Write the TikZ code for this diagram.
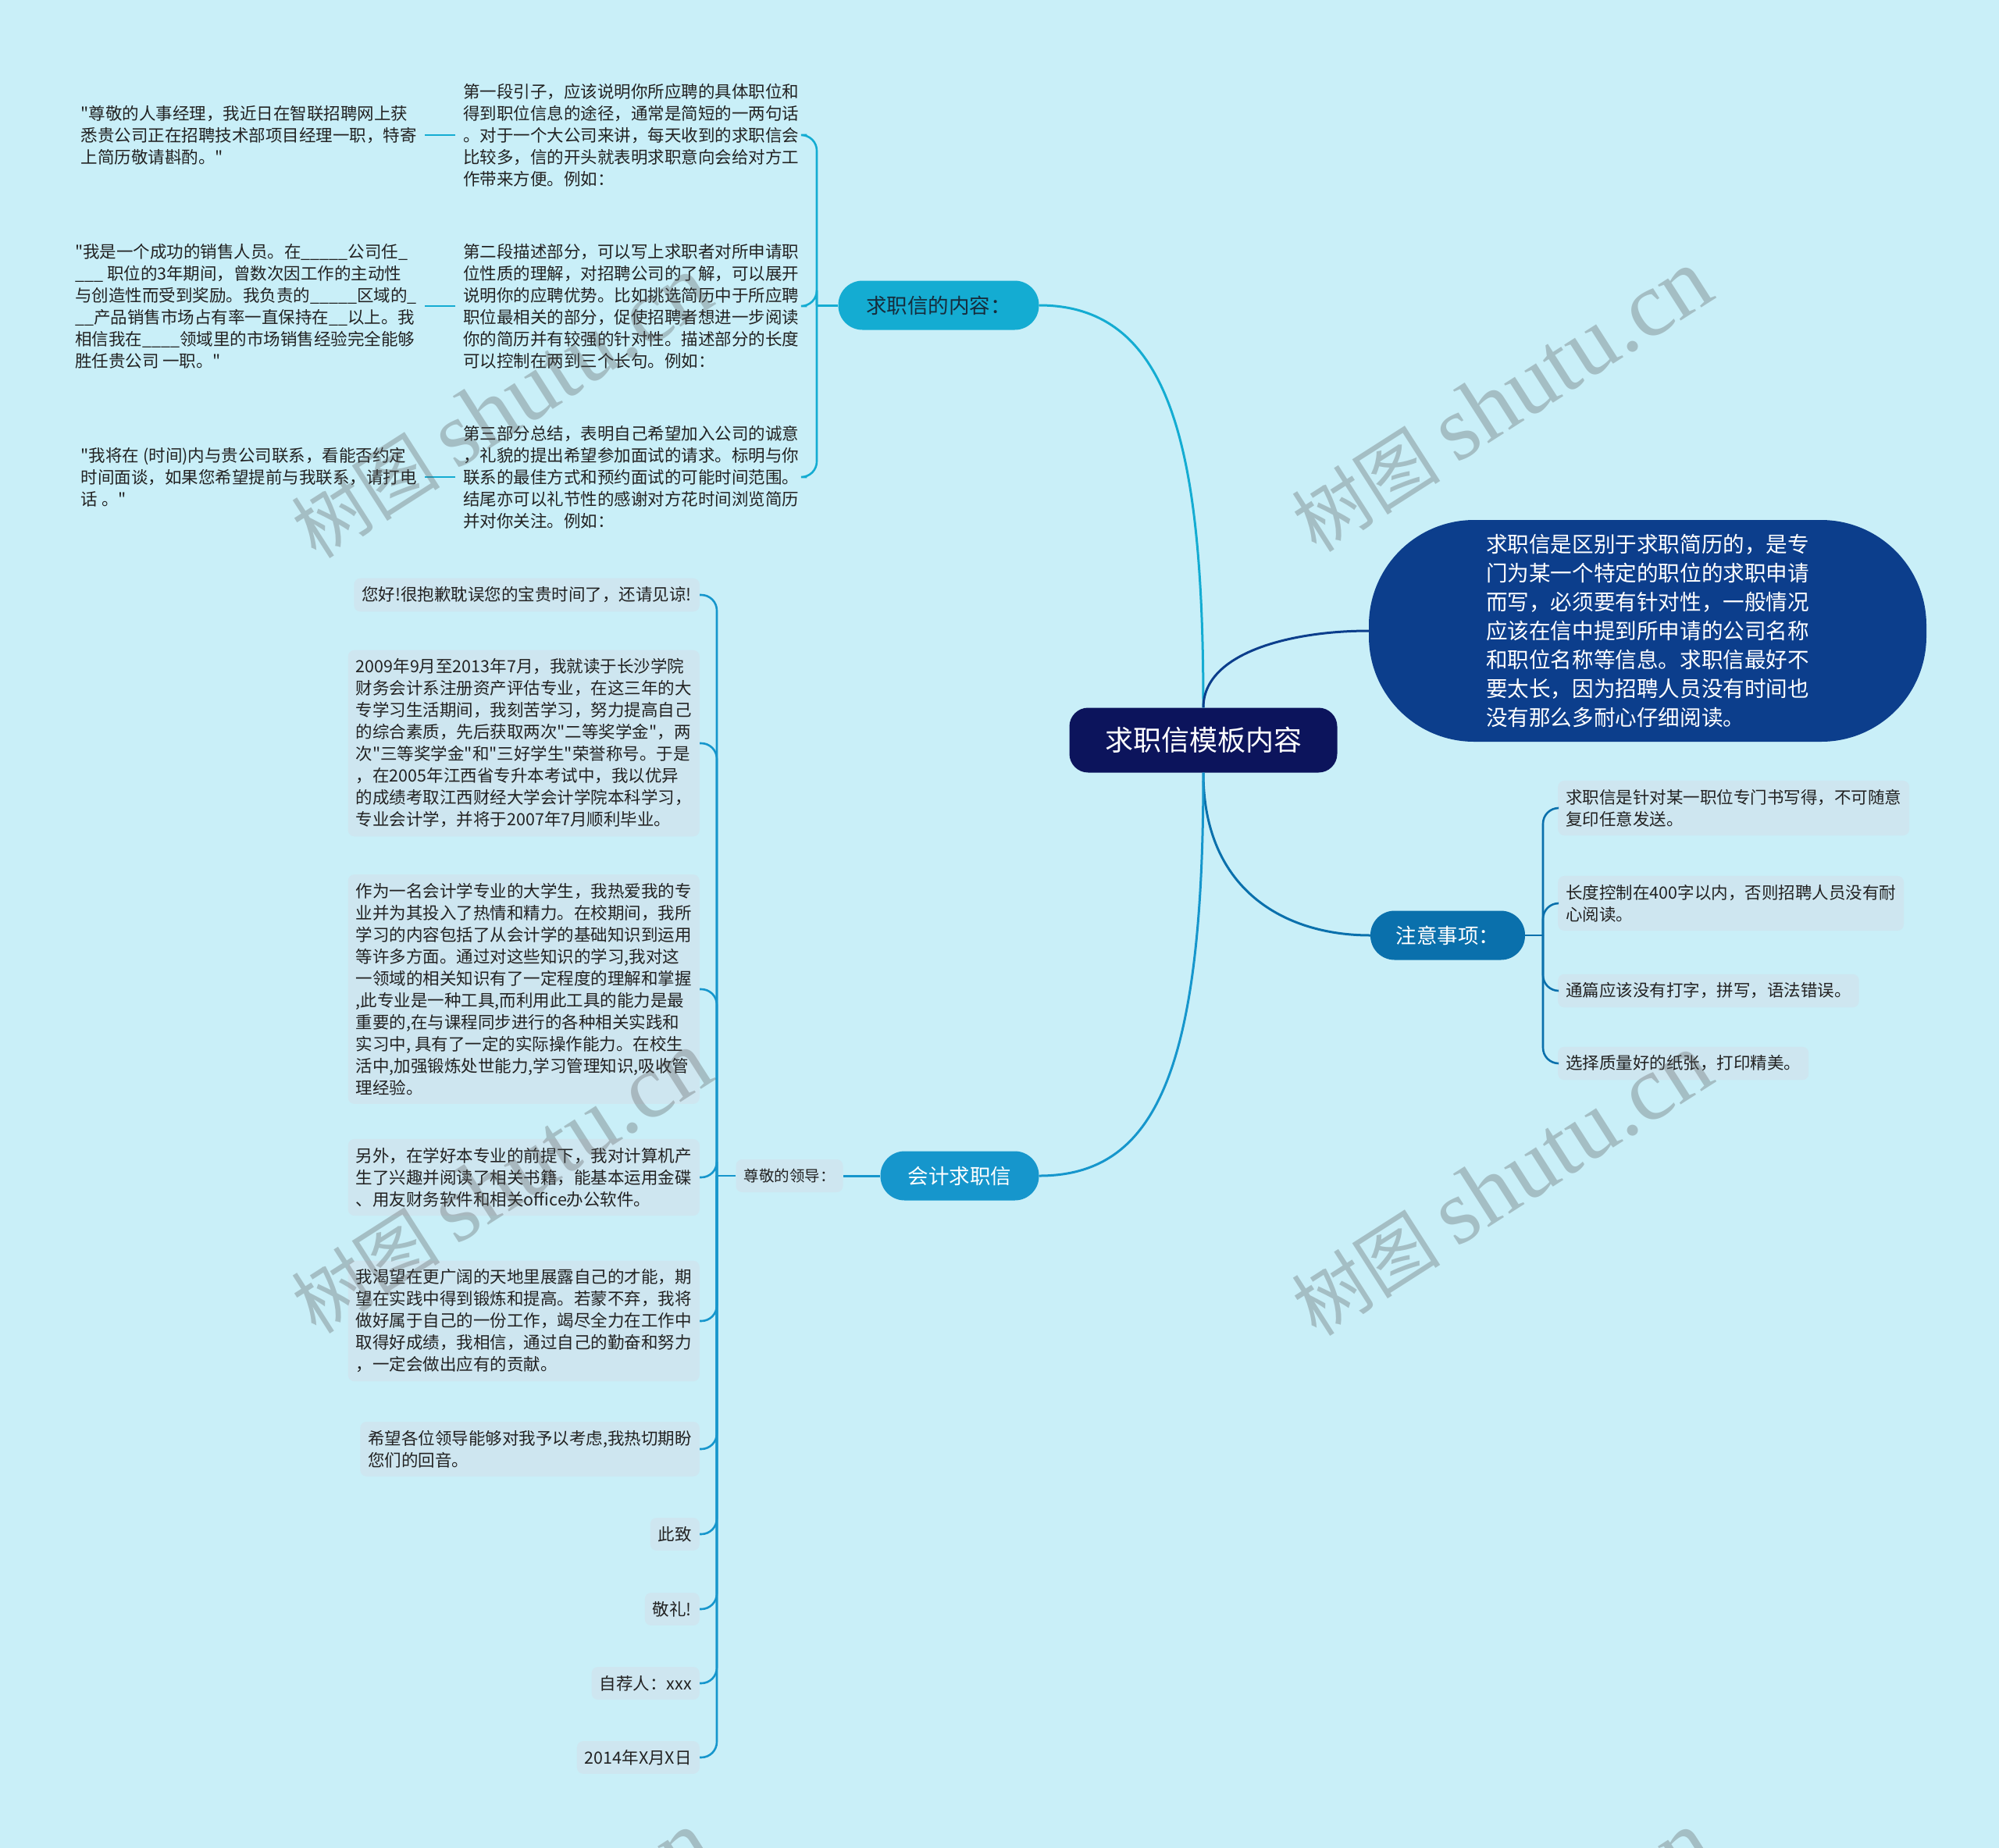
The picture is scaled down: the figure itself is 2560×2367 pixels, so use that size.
\documentclass[tikz,border=0pt]{standalone}
\usepackage{fontspec}
\setmainfont{Noto Sans CJK SC}[Ligatures=TeXOff]
\newfontfamily\wmlatin{Liberation Serif}

\definecolor{bgcyan}{RGB}{201,239,248}
\definecolor{rootnavy}{RGB}{12,20,92}
\definecolor{introblue}{RGB}{12,62,140}
\definecolor{topiccyan}{RGB}{20,172,210}
\definecolor{topicink}{RGB}{22,44,60}
\definecolor{lettercyan}{RGB}{22,150,204}
\definecolor{noteblue}{RGB}{10,112,172}
\definecolor{leaffill}{RGB}{206,230,240}
\definecolor{leafink}{RGB}{34,34,34}

\begin{document}
\begin{tikzpicture}[x=1pt, y=-1pt,
	leaf/.style={font=\fontsize{21.5}{28}\selectfont, text=leafink, align=left, inner xsep=10pt, inner ysep=11pt},
	leafbox/.style={leaf, fill=leaffill, rounded corners=8pt},
	topic/.style={rounded corners=31pt, minimum height=63pt, font=\fontsize{26.5}{30}\selectfont},
	link/.style={line width=3pt},
	fork/.style={line width=2.6pt, rounded corners=20pt},
	wm/.style={text=black!65, opacity=0.32, font=\fontsize{96}{100}\selectfont}]

	% 1. Background and page size
	\fill[bgcyan] (0,0) rectangle (2560,2367);
	\useasboundingbox (0,0) rectangle (2560,2367);
	\clip (0,0) rectangle (2560,2367);

	% 2. Centre and main topics
	\node[fill=rootnavy, text=white, rounded corners=24pt, minimum width=343pt, minimum height=83pt,
		font=\fontsize{36}{40}\selectfont] (root) at (1541,948) {求职信模板内容};
	\node[fill=introblue, text=white, rounded corners=135pt, minimum width=714pt, minimum height=284pt,
		align=left, font=\fontsize{27.6}{36.9}\selectfont] (intro) at (2110,808)
		{求职信是区别于求职简历的，是专\\门为某一个特定的职位的求职申请\\而写，必须要有针对性，一般情况\\应该在信中提到所申请的公司名称\\和职位名称等信息。求职信最好不\\要太长，因为招聘人员没有时间也\\没有那么多耐心仔细阅读。};
	\node[topic, fill=topiccyan, text=topicink, minimum width=257pt] (content) at (1202,391) {求职信的内容：};
	\node[topic, fill=noteblue, text=white, minimum width=198pt] (notes) at (1854,1198) {注意事项：};
	\node[topic, fill=lettercyan, text=white, minimum width=203pt] (letter) at (1229,1506) {会计求职信};

	% 3. Letter parts (top left)
	\node[leaf, anchor=west] (para1) at (583,173) {第一段引子，应该说明你所应聘的具体职位和\\得到职位信息的途径，通常是简短的一两句话\\。对于一个大公司来讲，每天收到的求职信会\\比较多，信的开头就表明求职意向会给对方工\\作带来方便。例如：};
	\node[leaf, anchor=west] (para2) at (583,392) {第二段描述部分，可以写上求职者对所申请职\\位性质的理解，对招聘公司的了解，可以展开\\说明你的应聘优势。比如挑选简历中于所应聘\\职位最相关的部分，促使招聘者想进一步阅读\\你的简历并有较强的针对性。描述部分的长度\\可以控制在两到三个长句。例如：};
	\node[leaf, anchor=west] (para3) at (583,611) {第三部分总结，表明自己希望加入公司的诚意\\，礼貌的提出希望参加面试的请求。标明与你\\联系的最佳方式和预约面试的可能时间范围。\\结尾亦可以礼节性的感谢对方花时间浏览简历\\并对你关注。例如：};
	\node[leaf, anchor=east] (eg1) at (544,173) {"尊敬的人事经理，我近日在智联招聘网上获\\悉贵公司正在招聘技术部项目经理一职，特寄\\上简历敬请斟酌。"};
	\node[leaf, anchor=east] (eg2) at (544,392) {"我是一个成功的销售人员。在\_\_\_\_\_公司任\_\\\_\_\_ 职位的3年期间，曾数次因工作的主动性\\与创造性而受到奖励。我负责的\_\_\_\_\_区域的\_\\\_\_产品销售市场占有率一直保持在\_\_以上。我\\相信我在\_\_\_\_领域里的市场销售经验完全能够\\胜任贵公司 一职。"};
	\node[leaf, anchor=east] (eg3) at (544,611) {"我将在 (时间)内与贵公司联系，看能否约定\\时间面谈，如果您希望提前与我联系，请打电\\话 。"};

	% 4. Sample letter (bottom left)
	\node[leafbox, font=\fontsize{19.5}{24}\selectfont, minimum height=42pt] (greet) at (1011,1506) {尊敬的领导：};
	\node[leafbox, anchor=east] (hello) at (896,762) {您好!很抱歉耽误您的宝贵时间了，还请见谅!};
	\node[leafbox, anchor=east] (study) at (896,952) {2009年9月至2013年7月，我就读于长沙学院\\财务会计系注册资产评估专业，在这三年的大\\专学习生活期间，我刻苦学习，努力提高自己\\的综合素质，先后获取两次"二等奖学金"，两\\次"三等奖学金"和"三好学生"荣誉称号。于是\\，在2005年江西省专升本考试中，我以优异\\的成绩考取江西财经大学会计学院本科学习，\\专业会计学，并将于2007年7月顺利毕业。};
	\node[leafbox, anchor=east] (major) at (896,1267) {作为一名会计学专业的大学生，我热爱我的专\\业并为其投入了热情和精力。在校期间，我所\\学习的内容包括了从会计学的基础知识到运用\\等许多方面。通过对这些知识的学习,我对这\\一领域的相关知识有了一定程度的理解和掌握\\,此专业是一种工具,而利用此工具的能力是最\\重要的,在与课程同步进行的各种相关实践和\\实习中, 具有了一定的实际操作能力。在校生\\活中,加强锻炼处世能力,学习管理知识,吸收管\\理经验。};
	\node[leafbox, anchor=east] (skill) at (896,1508) {另外，在学好本专业的前提下，我对计算机产\\生了兴趣并阅读了相关书籍，能基本运用金碟\\、用友财务软件和相关office办公软件。};
	\node[leafbox, anchor=east] (hope) at (896,1692) {我渴望在更广阔的天地里展露自己的才能，期\\望在实践中得到锻炼和提高。若蒙不弃，我将\\做好属于自己的一份工作，竭尽全力在工作中\\取得好成绩，我相信，通过自己的勤奋和努力\\，一定会做出应有的贡献。};
	\node[leafbox, anchor=east] (wish) at (896,1856) {希望各位领导能够对我予以考虑,我热切期盼\\您们的回音。};
	\node[leafbox, anchor=east] (close) at (896,1965) {此致};
	\node[leafbox, anchor=east] (salute) at (896,2061) {敬礼!};
	\node[leafbox, anchor=east] (sign) at (896,2156) {自荐人：xxx};
	\node[leafbox, anchor=east] (date) at (896,2251) {2014年X月X日};

	% 5. Notes (right)
	\node[leafbox, anchor=west] (tip1) at (1995,1035) {求职信是针对某一职位专门书写得，不可随意\\复印任意发送。};
	\node[leafbox, anchor=west] (tip2) at (1995,1157) {长度控制在400字以内，否则招聘人员没有耐\\心阅读。};
	\node[leafbox, anchor=west] (tip3) at (1995,1269) {通篇应该没有打字，拼写，语法错误。};
	\node[leafbox, anchor=west] (tip4) at (1995,1362) {选择质量好的纸张，打印精美。};

	% 6. Connectors from the centre
	\draw[link, topiccyan] (root.north) .. controls +(0,-330) and +(170,0) .. (content.east);
	\draw[link, introblue] (root.north) .. controls +(0,-70) and +(-100,0) .. (intro.west);
	\draw[link, noteblue] (root.south) .. controls +(0,150) and +(-110,0) .. (notes.west);
	\draw[link, lettercyan] (root.south) .. controls +(0,380) and +(150,0) .. (letter.east);

	% 7. Forks to the leaves
	\coordinate (contentfork) at (1046,391);
	\draw[link, topiccyan] (content.west) -- (contentfork);
	\foreach \p in {para1,para2,para3}
		\draw[fork, topiccyan] (contentfork) |- (\p.east);
	\foreach \p/\e in {para1/eg1,para2/eg2,para3/eg3}
		\draw[fork, topiccyan] (\p.west) -- (\e.east);

	\draw[link, lettercyan] (letter.west) -- (greet.east);
	\coordinate (greetfork) at (918,1506);
	\draw[fork, lettercyan] (greet.west) -- (greetfork);
	\foreach \c in {hello,study,major,skill,hope,wish,close,salute,sign,date}
		\draw[fork, lettercyan] (greetfork) |- (\c.east);

	\coordinate (notefork) at (1976,1198);
	\draw[fork, noteblue] (notes.east) -- (notefork);
	\foreach \t in {tip1,tip2,tip3,tip4}
		\draw[fork, noteblue] (notefork) |- (\t.west);

	% 8. Watermarks
	\foreach \wx/\wy [count=\i] in {642/522,1923/514,642/1515,1923/1518,642/2514,1923/2514}
		\node[wm, rotate=32.6] (wm\i) at (\wx,\wy) {树图 {\wmlatin\fontsize{118}{120}\selectfont shutu.cn}};
\end{tikzpicture}
\end{document}
